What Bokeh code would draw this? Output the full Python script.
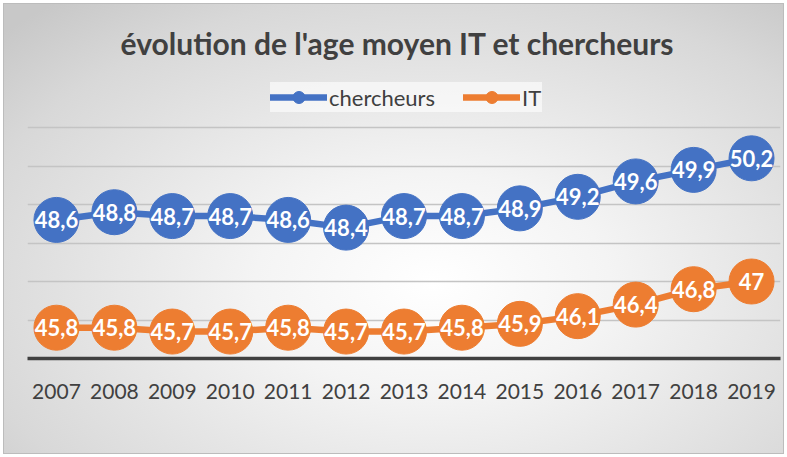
from bokeh.plotting import figure
from bokeh.models import (ColumnDataSource, FactorRange, Range1d, FixedTicker,
                          Legend, LegendItem, Label)
from bokeh.core.properties import value
from bokeh.embed import file_html
from bokeh.resources import INLINE

years = ["2007", "2008", "2009", "2010", "2011", "2012", "2013",
         "2014", "2015", "2016", "2017", "2018", "2019"]
chercheurs = [48.6, 48.8, 48.7, 48.7, 48.6, 48.4, 48.7, 48.7, 48.9, 49.2, 49.6, 49.9, 50.2]
it = [45.8, 45.8, 45.7, 45.7, 45.8, 45.7, 45.7, 45.8, 45.9, 46.1, 46.4, 46.8, 47.0]
grid_ticks = [46, 47, 48, 49, 50, 51]
y_min, y_max = 45, 54.3
series_names = ["chercheurs", "IT"]
title_text = "évolution de l'age moyen IT et chercheurs"

BLUE = "#4472C4"
ORANGE = "#ED7D31"
DARK = "#404040"


def fmt(v):
    s = f"{v:.1f}"
    if s.endswith(".0"):
        s = s[:-2]
    return s.replace(".", ",")


src_c = ColumnDataSource(dict(x=years, y=chercheurs, lab=[fmt(v) for v in chercheurs]))
src_i = ColumnDataSource(dict(x=years, y=it, lab=[fmt(v) for v in it]))

p = figure(width=787, height=457, output_backend="svg", toolbar_location=None,
           x_range=FactorRange(*years, range_padding=0),
           y_range=Range1d(y_min, y_max),
           min_border_left=27, min_border_right=7, min_border_top=0,
           min_border_bottom=99)

p.background_fill_color = None
p.border_fill_color = None
p.outline_line_color = None
p.styles = {
    "background": "radial-gradient(ellipse 75% 80% at 55% 62%, #ffffff 0%, #f4f4f4 30%, #d8d8d8 80%, #c8c8c8 100%)",
    "box-shadow": "inset 0 0 0 3px #ffffff, inset 0 0 0 4px #bcbcbc",
}

p.yaxis.visible = False
p.xgrid.visible = False
p.ygrid.ticker = FixedTicker(ticks=grid_ticks)
p.ygrid.grid_line_color = "#c4c4c4"
p.ygrid.grid_line_width = 1.5

p.xaxis.axis_line_color = DARK
p.xaxis.axis_line_width = 3.5
p.xaxis.major_tick_line_color = None
p.xaxis.minor_tick_line_color = None
p.xaxis.major_label_text_font = "Lato"
p.xaxis.major_label_text_font_size = "21px"
p.xaxis.major_label_text_color = DARK
p.xaxis.major_label_standoff = 19

items = []
for src, col, name in ((src_c, BLUE, series_names[0]), (src_i, ORANGE, series_names[1])):
    ln = p.line("x", "y", source=src, line_color=col, line_width=6.5, line_cap="round")
    sc = p.scatter("x", "y", source=src, size=45, fill_color=col, line_color=col)
    p.text("x", "y", text="lab", source=src, text_color="white",
           text_font=value("Lato"), text_font_style="bold",
           text_font_size="22px", text_align="center", text_baseline="middle")
    items.append(LegendItem(label=name, renderers=[ln, sc]))

legend = Legend(items=items,
                orientation="horizontal", location=(243, 246),
                glyph_width=57, glyph_height=30, label_standoff=2,
                spacing=28, padding=7, margin=0,
                label_text_font="Lato", label_text_font_size="22px",
                label_text_color=DARK,
                background_fill_color="white", background_fill_alpha=0.6,
                border_line_color=None)
p.add_layout(legend, "center")

title = Label(x=370, y=316, x_units="screen", y_units="screen", text=title_text,
              text_font="Lato", text_font_style="bold", text_font_size="30px",
              text_color=DARK, text_align="center", text_baseline="middle")
p.add_layout(title)

open("out.html", "w").write(file_html(p, INLINE))
